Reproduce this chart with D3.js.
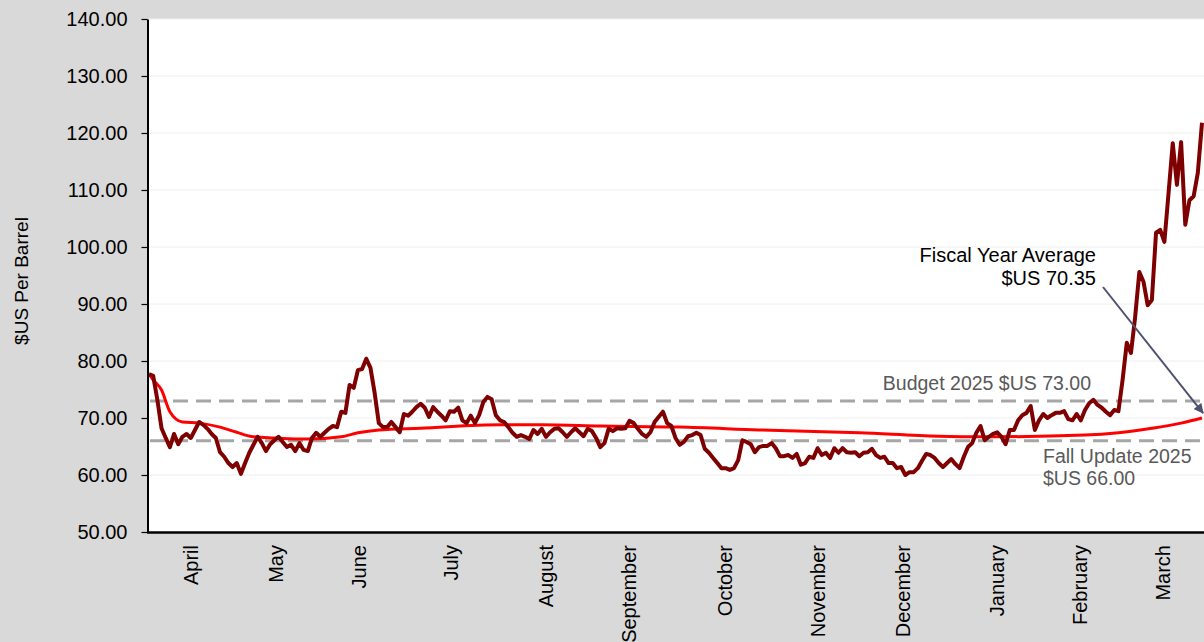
<!DOCTYPE html>
<html>
<head>
<meta charset="utf-8">
<script src="https://cdn.jsdelivr.net/npm/d3@7"></script>
<style>
  html, body { margin: 0; padding: 0; background: #d9d9d9; overflow: hidden; }
  svg { display: block; font-family: "Liberation Sans", Arial, sans-serif; }
</style>
</head>
<body>
<script>
// Chart size
var svgWidth = 1204;
var svgHeight = 642;

// Plot area edges
var margin = { top: 19, right: 0, bottom: 110, left: 148 };

// Daily price, one value per trading day (April to March)
var dailyPrice = [
  77.7, 77.4, 73.2, 68.2, 66.5, 64.9, 67.2, 65.4, 66.7, 67.2,
  66.5, 67.9, 69.3, 68.8, 68.1, 67.2, 66.5, 64.0, 63.2, 62.1,
  61.4, 62.1, 60.2, 62.1, 63.9, 65.3, 66.7, 65.6, 64.2, 65.4,
  66.1, 66.7, 65.8, 64.9, 65.3, 64.2, 65.6, 64.4, 64.2, 66.5,
  67.4, 66.7, 67.4, 68.1, 68.6, 68.4, 71.1, 70.9, 75.8, 75.3,
  78.4, 78.6, 80.4, 78.8, 74.4, 69.1, 68.4, 68.4, 69.3, 68.4,
  67.5, 70.7, 70.4, 71.1, 71.9, 72.5, 71.8, 70.2, 71.9, 71.1,
  70.4, 69.6, 71.2, 71.1, 71.8, 69.6, 69.1, 70.4, 69.1, 70.5,
  72.8, 73.7, 73.3, 70.5, 69.6, 69.3, 68.4, 67.4, 66.7, 67.0,
  66.7, 66.3, 67.9, 67.2, 68.1, 66.7, 67.5, 68.1, 68.2, 67.5,
  66.7, 67.5, 68.2, 67.5, 66.8, 68.1, 67.7, 66.5, 64.9, 65.6,
  68.1, 67.7, 68.2, 68.1, 68.2, 69.5, 69.1, 68.1, 67.2, 66.7,
  67.5, 69.3, 70.2, 71.1, 69.1, 68.6, 66.5, 65.3, 65.8, 66.8,
  67.0, 67.4, 67.0, 64.6, 63.9, 63.0, 62.1, 61.2, 61.2, 60.9,
  61.2, 62.6, 66.1, 65.8, 65.4, 64.0, 64.9, 65.1, 65.1, 65.6,
  64.7, 63.3, 63.3, 63.5, 63.0, 63.7, 61.8, 62.1, 63.2, 63.0,
  64.7, 63.5, 63.9, 63.0, 64.7, 63.9, 64.7, 64.0, 63.9, 64.0,
  63.3, 63.9, 64.0, 64.6, 63.5, 63.0, 63.2, 62.1, 62.1, 61.2,
  61.4, 60.0, 60.5, 60.5, 61.2, 62.5, 63.7, 63.5, 63.0, 62.1,
  61.4, 62.1, 62.8, 61.9, 61.2, 63.2, 64.9, 65.6, 67.4, 68.6,
  66.1, 66.7, 67.2, 67.5, 66.7, 65.4, 67.9, 67.9, 69.6, 70.5,
  70.9, 72.1, 67.9, 69.6, 70.7, 70.0, 70.5, 70.9, 70.9, 71.2,
  69.8, 69.6, 70.7, 69.6, 71.4, 72.6, 73.2, 72.3, 71.8, 71.1,
  70.5, 71.4, 71.2, 76.7, 83.2, 81.4, 87.7, 95.6, 93.9, 89.8,
  90.7, 102.5, 103.0, 100.9, 109.5, 118.2, 110.9, 118.4, 103.9, 108.2,
  108.9, 113.0, 121.8
];

// Fiscal year-to-date average, read at some trading days
var avgDay = [0, 1, 3, 5, 8, 12, 17, 21, 25, 30, 38, 46, 50, 55, 65, 84, 94, 108, 127, 146, 170, 189, 200, 224, 232, 240, 247, 252];
var avgPrice = [77.7, 76.7, 74.9, 71.1, 69.3, 69.1, 68.4, 67.5, 66.7, 66.5, 66.3, 66.7, 67.4, 67.9, 68.2, 68.8, 68.8, 68.6, 68.4, 67.9, 67.4, 66.8, 66.7, 67.0, 67.4, 68.2, 69.1, 70.0];

// Month labels and the trading day they sit on
var monthNames = ["April", "May", "June", "July", "August", "September", "October", "November", "December", "January", "February", "March"];
var monthDay = [10, 30.4, 50.2, 72.2, 95, 114.8, 137.8, 160, 180.4, 202.9, 222.7, 242.6];

// Y axis ticks
var yTicks = [50, 60, 70, 80, 90, 100, 110, 120, 130, 140];

// Reference prices
var budgetPrice = 73.00;
var fallUpdatePrice = 66.00;
var fiscalAverage = 70.35;

var svg = d3.select("body")
  .append("svg")
  .attr("width", svgWidth)
  .attr("height", svgHeight);

var plotBottom = svgHeight - margin.bottom - 1;

var xScale = d3.scaleLinear()
  .domain([0, dailyPrice.length - 1])
  .range([149, 1202]);

var yScale = d3.scaleLinear()
  .domain([50, 140])
  .range([532, 19]);

// White plot area
svg.append("rect")
  .attr("x", margin.left)
  .attr("y", yScale(140))
  .attr("width", svgWidth - margin.left + 10)
  .attr("height", yScale(50) - yScale(140))
  .attr("fill", "#ffffff");

// Gridlines
svg.append("g")
  .selectAll("line")
  .data(yTicks.slice(1))
  .join("line")
  .attr("x1", margin.left)
  .attr("x2", svgWidth)
  .attr("y1", d => yScale(d))
  .attr("y2", d => yScale(d))
  .attr("stroke", "#eeeeee")
  .attr("stroke-width", 1);

// Budget and Fall Update dashed lines
svg.append("g")
  .selectAll("line")
  .data([budgetPrice, fallUpdatePrice])
  .join("line")
  .attr("x1", margin.left + 2)
  .attr("x2", svgWidth)
  .attr("y1", d => yScale(d))
  .attr("y2", d => yScale(d))
  .attr("stroke", "#a6a6a6")
  .attr("stroke-width", 3)
  .attr("stroke-dasharray", "15,8");

// Average line
var avgLine = d3.line()
  .x((d, i) => xScale(avgDay[i]))
  .y(d => yScale(d))
  .curve(d3.curveMonotoneX);

svg.append("path")
  .attr("d", avgLine(avgPrice))
  .attr("fill", "none")
  .attr("stroke", "#ff0000")
  .attr("stroke-width", 3);

// Daily price line
var priceLine = d3.line()
  .x((d, i) => xScale(i))
  .y(d => yScale(d));

svg.append("path")
  .attr("d", priceLine(dailyPrice))
  .attr("fill", "none")
  .attr("stroke", "#7f0000")
  .attr("stroke-width", 4)
  .attr("stroke-linejoin", "round");

// Left axis
var leftAxis = d3.axisLeft(yScale)
  .tickValues(yTicks)
  .tickFormat(d3.format(".2f"))
  .tickSize(6)
  .tickSizeOuter(0)
  .tickPadding(14);

var yAxisG = svg.append("g")
  .attr("transform", `translate(${margin.left - 0.5},0)`)
  .call(leftAxis);

yAxisG.select(".domain").attr("stroke", "#000").attr("stroke-width", 2);
yAxisG.selectAll(".tick line").attr("stroke", "#000").attr("stroke-width", 1.2);
yAxisG.selectAll(".tick text")
  .attr("fill", "#000")
  .style("font-size", "20px")
  .style("font-family", "'Liberation Sans', Arial, sans-serif");

// Bottom axis line
svg.append("line")
  .attr("x1", margin.left - 1)
  .attr("x2", svgWidth)
  .attr("y1", yScale(50) + 0.5)
  .attr("y2", yScale(50) + 0.5)
  .attr("stroke", "#000")
  .attr("stroke-width", 2.5);

// Month labels
svg.append("g")
  .selectAll("text")
  .data(monthNames)
  .join("text")
  .attr("transform", (d, i) => `translate(${xScale(monthDay[i])},545) rotate(-90)`)
  .attr("text-anchor", "end")
  .attr("dy", "0.35em")
  .attr("fill", "#000")
  .style("font-size", "20px")
  .text(d => d);

// Y axis title
svg.append("text")
  .attr("transform", "translate(21,281) rotate(-90)")
  .attr("text-anchor", "middle")
  .attr("dy", "0.35em")
  .attr("fill", "#000")
  .style("font-size", "19px")
  .text("$US Per Barrel");

// Budget label
svg.append("text")
  .attr("x", 1091)
  .attr("y", yScale(budgetPrice) - 11)
  .attr("text-anchor", "end")
  .attr("fill", "#595959")
  .style("font-size", "19.5px")
  .text("Budget 2025 $US " + budgetPrice.toFixed(2));

// Fall Update label
var fallText = svg.append("text")
  .attr("x", 1043)
  .attr("y", yScale(fallUpdatePrice) + 22)
  .attr("fill", "#595959")
  .style("font-size", "19.5px");
fallText.append("tspan").attr("x", 1043).text("Fall Update 2025");
fallText.append("tspan").attr("x", 1043).attr("dy", 22).text("$US " + fallUpdatePrice.toFixed(2));

// Fiscal year average label and arrow
var fyText = svg.append("text")
  .attr("x", 1096)
  .attr("y", 262)
  .attr("text-anchor", "end")
  .attr("fill", "#000")
  .style("font-size", "20px");
fyText.append("tspan").attr("x", 1096).text("Fiscal Year Average");
fyText.append("tspan").attr("x", 1096).attr("dy", 23).text("$US " + fiscalAverage.toFixed(2));

svg.append("defs").append("marker")
  .attr("id", "arrowHead")
  .attr("viewBox", "0 0 10 10")
  .attr("refX", 9)
  .attr("refY", 5)
  .attr("markerWidth", 5)
  .attr("markerHeight", 5)
  .attr("orient", "auto")
  .append("path")
  .attr("d", "M0,0L10,5L0,10z")
  .attr("fill", "#4d5270");

svg.append("line")
  .attr("x1", 1103)
  .attr("y1", 287)
  .attr("x2", xScale(dailyPrice.length - 1) + 1)
  .attr("y2", yScale(fiscalAverage) - 3)
  .attr("stroke", "#4d5270")
  .attr("stroke-width", 2)
  .attr("marker-end", "url(#arrowHead)");
</script>
</body>
</html>
